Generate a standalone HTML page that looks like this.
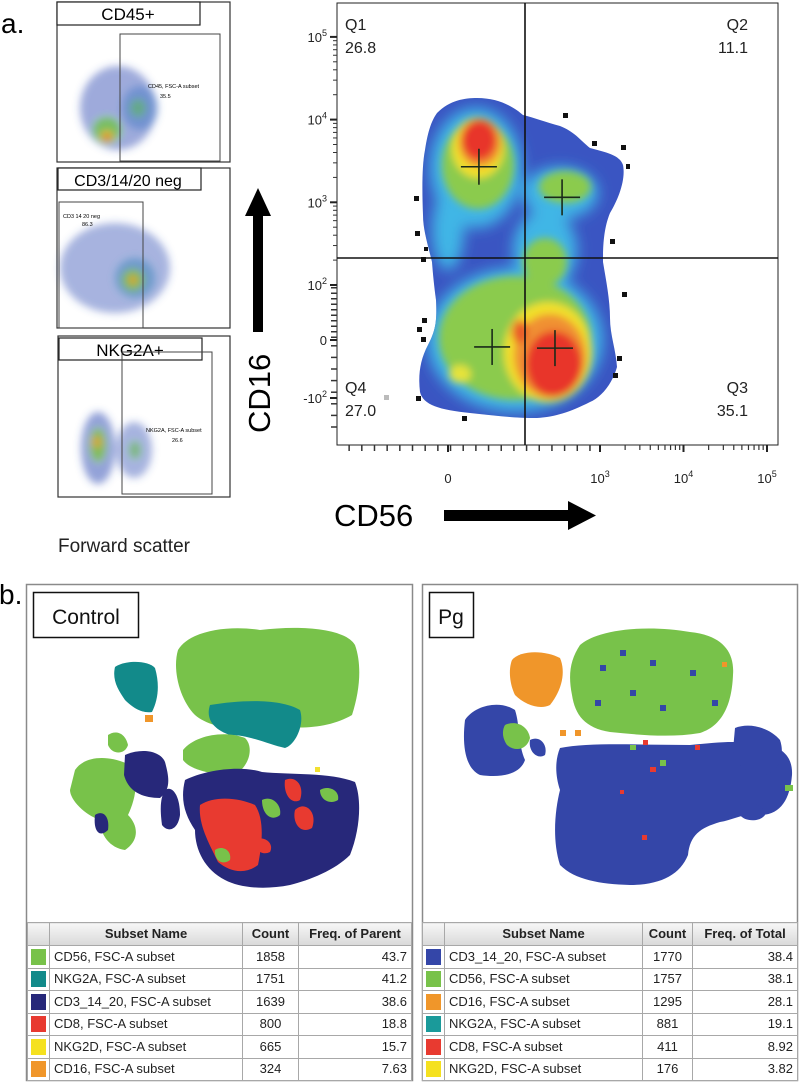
<!DOCTYPE html>
<html><head><meta charset="utf-8">
<style>
html,body{margin:0;padding:0;background:#fff;}
body{width:800px;height:1083px;position:relative;overflow:hidden;font-family:"Liberation Sans",sans-serif;}
svg{position:absolute;left:0;top:0;}
table{position:absolute;border-collapse:collapse;font-family:"Liberation Sans",sans-serif;font-size:13px;color:#222;table-layout:fixed;background:#fff;}
td,th{border:1px solid #a8a8a8;padding:0 4px;white-space:nowrap;overflow:hidden;line-height:14px;}
tr{height:22.5px;}
tr.h{height:23px;}
th{background:linear-gradient(#f6f6f6,#d9d9d9);font-weight:bold;text-align:center;}
td.c{text-align:center}td.r{text-align:right}
td.sw{padding:0 3px}
.sw span{display:block;width:15px;height:16px;}
</style></head><body>
<svg width="800" height="1083" viewBox="0 0 800 1083">
<defs>
<filter id="bl" x="-50%" y="-50%" width="200%" height="200%"><feGaussianBlur stdDeviation="7"/></filter>
<filter id="bh" x="-50%" y="-50%" width="200%" height="200%"><feGaussianBlur stdDeviation="4"/></filter>
<filter id="bs" x="-50%" y="-50%" width="200%" height="200%"><feGaussianBlur stdDeviation="4"/></filter>
<clipPath id="densclip"><path id="dpath" d="M437,113 C450,100 465,98 477,98 C500,98 515,108 523,115 C535,118 545,122 560,126 C575,132 580,140 590,148 C605,152 620,155 623,165 C626,180 618,200 610,213 C603,230 603,250 603,262 C606,280 610,300 610,318 C610,335 616,350 617,367 C612,385 600,398 590,402 C570,412 555,417 537,418 C510,418 490,415 470,413 C440,410 423,405 420,392 C418,375 420,360 428,345 C436,330 437,320 436,300 C434,285 433,275 432,262 C428,245 423,230 423,215 C422,190 422,165 425,150 C428,130 432,120 437,113 Z"/></clipPath>
</defs>

<text x="1" y="33" font-size="28">a.</text>

<g>
<rect x="57" y="2" width="173" height="160" fill="none" stroke="#333" stroke-width="1.2"/>
<g filter="url(#bs)">
<ellipse cx="118" cy="108" rx="38" ry="42" fill="#3c56b8" opacity="0.5"/>
<ellipse cx="140" cy="108" rx="18" ry="22" fill="#4a7bc8" opacity="0.5"/>
<ellipse cx="107" cy="130" rx="14" ry="13" fill="#72c24a" opacity="0.85"/>
<ellipse cx="138" cy="108" rx="8" ry="9" fill="#5fb36a" opacity="0.7"/>
<ellipse cx="107" cy="136" rx="6" ry="5" fill="#f2d02a"/>
<ellipse cx="107" cy="137" rx="3.5" ry="3.5" fill="#e23a22"/>
</g>
<rect x="57" y="2" width="143" height="23" fill="#fff" stroke="#222" stroke-width="1.2"/>
<text x="128" y="20" font-size="17" text-anchor="middle">CD45+</text>
<rect x="120" y="34" width="100" height="127" fill="none" stroke="#444" stroke-width="1"/>
<text x="148" y="88" font-size="5.5">CD45, FSC-A subset</text>
<text x="160" y="98" font-size="5.5">35.5</text>
</g>

<g>
<rect x="57" y="168" width="173" height="160" fill="none" stroke="#333" stroke-width="1.2"/>
<g filter="url(#bs)">
<ellipse cx="115" cy="268" rx="55" ry="45" fill="#3c56b8" opacity="0.45"/>
<ellipse cx="135" cy="278" rx="20" ry="20" fill="#4b8bc0" opacity="0.6"/>
<ellipse cx="133" cy="280" rx="11" ry="11" fill="#7cc244" opacity="0.85"/>
<ellipse cx="133" cy="280" rx="4" ry="4" fill="#f29a2a"/>
</g>
<rect x="58" y="168" width="143" height="22" fill="#fff" stroke="#222" stroke-width="1.2"/>
<text x="128" y="186" font-size="16" text-anchor="middle">CD3/14/20 neg</text>
<rect x="59" y="202" width="84" height="126" fill="none" stroke="#444" stroke-width="1"/>
<text x="63" y="218" font-size="5.5">CD3 14 20 neg</text>
<text x="82" y="226" font-size="5.5">86.3</text>
</g>

<g>
<rect x="58" y="336" width="172" height="161" fill="none" stroke="#333" stroke-width="1.2"/>
<g filter="url(#bs)">
<ellipse cx="98" cy="448" rx="17" ry="36" fill="#3c56b8" opacity="0.55"/>
<ellipse cx="134" cy="450" rx="18" ry="28" fill="#3c56b8" opacity="0.45"/>
<ellipse cx="98" cy="445" rx="8" ry="17" fill="#7cc244" opacity="0.85"/>
<ellipse cx="135" cy="450" rx="6" ry="9" fill="#6cb85a" opacity="0.7"/>
<ellipse cx="97" cy="442" rx="3.5" ry="5" fill="#f29a2a"/>
</g>
<rect x="59" y="338" width="143" height="22" fill="#fff" stroke="#222" stroke-width="1.2"/>
<text x="130" y="356" font-size="17" text-anchor="middle">NKG2A+</text>
<rect x="122" y="352" width="90" height="142" fill="none" stroke="#444" stroke-width="1"/>
<text x="146" y="432" font-size="5.5">NKG2A, FSC-A subset</text>
<text x="172" y="442" font-size="5.5">26.6</text>
</g>
<text x="58" y="552" font-size="19" fill="#222">Forward scatter</text>

<g>
<rect x="253" y="214" width="10" height="118" fill="#000"/>
<polygon points="245,216 258,188 271,216" fill="#000"/>
<text x="0" y="0" font-size="31" transform="translate(270,433) rotate(-90)">CD16</text>
</g>
<g>
<text x="334" y="526" font-size="31">CD56</text>
<rect x="444" y="510" width="126" height="11" fill="#000"/>
<polygon points="568,501 596,515.5 568,530" fill="#000"/>
</g>

<g>
<rect x="337" y="3" width="441" height="442" fill="#fff" stroke="#222" stroke-width="1"/>
<use href="#dpath" fill="#3a55c2"/>
<g clip-path="url(#densclip)">
<g filter="url(#bl)">
<ellipse cx="476" cy="168" rx="46" ry="60" fill="#3fb6e6"/>
<ellipse cx="448" cy="230" rx="16" ry="40" fill="#3fb6e6"/>
<ellipse cx="560" cy="193" rx="38" ry="26" fill="#3fb6e6"/>
<ellipse cx="545" cy="250" rx="32" ry="40" fill="#3fb6e6"/>
<ellipse cx="515" cy="340" rx="88" ry="72" fill="#3fb6e6"/>
</g>
<g filter="url(#bh)">
<ellipse cx="478" cy="165" rx="36" ry="44" fill="#8bcb4e"/>
<ellipse cx="565" cy="187" rx="26" ry="16" fill="#8bcb4e"/>
<ellipse cx="545" cy="262" rx="22" ry="24" fill="#8bcb4e"/>
<ellipse cx="515" cy="338" rx="76" ry="62" fill="#8bcb4e"/>
<ellipse cx="478" cy="148" rx="26" ry="30" fill="#f2e02c"/>
<ellipse cx="548" cy="352" rx="44" ry="50" fill="#f2e02c"/>
<ellipse cx="460" cy="374" rx="11" ry="9" fill="#e6e33a"/>
<ellipse cx="480" cy="143" rx="21" ry="24" fill="#f09030"/>
<ellipse cx="550" cy="356" rx="36" ry="42" fill="#f09030"/>
<ellipse cx="479" cy="140" rx="17" ry="20" fill="#e8362a"/>
<ellipse cx="554" cy="364" rx="28" ry="33" fill="#e8362a"/>
<ellipse cx="520" cy="332" rx="8" ry="12" fill="#ea5a2a"/>
</g>
</g>
<g fill="#111">
<rect x="563" y="113" width="5" height="5"/><rect x="592" y="141" width="5" height="5"/><rect x="621" y="145" width="5" height="5"/>
<rect x="626" y="164" width="4" height="5"/><rect x="414" y="196" width="5" height="5"/><rect x="415" y="231" width="5" height="5"/>
<rect x="424" y="247" width="4" height="4"/><rect x="421" y="257" width="5" height="5"/><rect x="610" y="239" width="5" height="5"/>
<rect x="622" y="292" width="5" height="5"/><rect x="422" y="318" width="5" height="5"/><rect x="417" y="327" width="5" height="5"/>
<rect x="421" y="337" width="5" height="5"/><rect x="617" y="356" width="5" height="5"/><rect x="613" y="373" width="5" height="5"/>
<rect x="416" y="396" width="5" height="5"/><rect x="462" y="416" width="5" height="5"/>
</g>
<rect x="384" y="395" width="5" height="5" fill="#bbb"/>
<line x1="525" y1="3" x2="525" y2="445" stroke="#111" stroke-width="1.6"/>
<line x1="337" y1="258" x2="778" y2="258" stroke="#111" stroke-width="1.6"/>
<g id="crosses" stroke="#1a2a1a" stroke-width="1.6"></g>
<g id="qlabels" font-size="16" fill="#222"></g>
<g id="ticks"></g>
</g>

<text x="-1" y="604" font-size="28">b.</text>
<rect x="26.5" y="584.5" width="386" height="496" fill="#fff" stroke="#8a8a8a" stroke-width="1.5"/>
<rect x="422.5" y="584.5" width="375" height="496" fill="#fff" stroke="#8a8a8a" stroke-width="1.5"/>

<g>
<path d="M178,650 C190,630 230,625 260,630 C300,625 345,628 355,645 C362,665 360,690 352,715 C330,728 300,730 270,725 C240,732 210,728 195,715 C180,700 172,670 178,650Z" fill="#78c24a"/>
<path d="M210,705 C240,700 280,698 300,710 C305,725 295,745 285,748 C270,745 250,735 230,735 C215,730 205,720 210,705Z" fill="#128a8a"/>
<path d="M115,667 C125,660 148,660 155,668 C160,685 158,700 152,712 C140,714 130,705 125,700 C118,690 112,680 115,667Z" fill="#128a8a"/>
<rect x="145" y="715" width="8" height="7" fill="#f0962a"/>
<path d="M183,750 C195,735 225,730 245,738 C255,748 248,768 235,774 C215,776 190,770 183,760Z" fill="#78c24a"/>
<path d="M75,770 C85,755 110,755 130,765 C140,780 135,800 128,815 C138,825 140,840 125,850 C110,848 100,835 100,820 C85,815 70,800 70,790Z" fill="#78c24a"/>
<path d="M108,735 C115,730 125,732 128,745 C125,755 112,755 108,745Z" fill="#78c24a"/>
<path d="M125,755 C140,748 160,750 165,762 C170,780 170,790 160,798 C140,798 128,790 124,775Z" fill="#27287a"/>
<path d="M165,790 C172,785 180,795 180,815 C178,830 168,833 162,825 C160,810 160,798 165,790Z" fill="#27287a"/>
<path d="M95,815 C102,810 110,815 108,830 C100,838 93,832 95,815Z" fill="#27287a"/>
<path d="M185,780 C205,770 240,765 262,772 C290,775 330,772 355,782 C362,800 360,830 350,855 C335,870 310,880 290,885 C265,890 240,888 225,880 C205,870 195,850 195,830 C185,815 180,800 185,780Z" fill="#27287a"/>
<path d="M200,805 C215,795 240,798 255,805 C265,820 262,845 258,865 C245,875 230,872 218,862 C210,845 198,825 200,805Z" fill="#e83a30"/>
<path d="M285,780 C295,775 305,785 300,800 C292,805 283,795 285,780Z" fill="#e83a30"/>
<path d="M295,810 C305,800 318,812 312,828 C300,835 292,822 295,810Z" fill="#e83a30"/>
<path d="M262,800 C272,795 282,805 280,815 C272,822 262,815 262,800Z" fill="#78c24a"/>
<path d="M215,850 C222,845 232,850 230,860 C222,866 214,860 215,850Z" fill="#78c24a"/>
<path d="M320,790 C328,785 340,790 338,800 C330,805 320,800 320,790Z" fill="#78c24a"/>
<path d="M255,840 C262,835 275,842 270,852 C262,856 254,850 255,840Z" fill="#e83a30"/>
<rect x="315" y="767" width="5" height="5" fill="#f2e030"/>
</g>

<g>
<path d="M580,645 C600,628 650,625 690,632 C720,635 735,650 733,675 C732,700 725,725 700,733 C670,738 640,735 610,732 C585,728 575,715 572,695 C568,675 570,660 580,645Z" fill="#78c24a"/>
<g fill="#3446a8"><rect x="600" y="665" width="6" height="6"/><rect x="630" y="690" width="6" height="6"/><rect x="650" y="660" width="6" height="6"/><rect x="690" y="670" width="6" height="6"/><rect x="712" y="700" width="6" height="6"/><rect x="620" y="650" width="6" height="6"/><rect x="660" y="705" width="6" height="6"/><rect x="595" y="700" width="6" height="6"/></g>
<path d="M512,660 C520,650 545,650 560,658 C566,672 562,690 550,705 C540,710 525,705 515,695 C510,685 508,670 512,660Z" fill="#f0962a"/>
<path d="M465,720 C475,705 500,700 515,710 C520,725 518,745 525,760 C520,775 500,778 480,775 C465,768 462,745 465,720Z" fill="#3446a8"/>
<path d="M505,725 C515,720 528,725 530,738 C527,750 515,752 507,745 C502,738 502,730 505,725Z" fill="#78c24a"/>
<path d="M530,740 C540,735 548,745 545,755 C538,760 528,752 530,740Z" fill="#3446a8"/>
<path d="M560,748 C590,742 640,745 690,745 C720,742 740,740 760,745 C780,745 793,755 792,775 C790,800 780,815 760,815 C745,812 733,820 720,822 C700,828 690,835 688,855 C680,875 660,885 630,885 C600,884 575,880 560,865 C552,840 555,810 560,790 C555,775 555,760 560,748Z" fill="#3446a8"/>
<path d="M735,728 C750,722 770,728 780,740 C785,755 780,770 765,775 C748,775 735,765 733,750Z" fill="#3446a8"/>
<path d="M740,805 C750,800 765,805 765,815 C760,822 745,822 740,815Z" fill="#3446a8"/>
<g fill="#e83a30"><rect x="643" y="740" width="5" height="5"/><rect x="650" y="767" width="6" height="5"/><rect x="620" y="790" width="4" height="4"/><rect x="695" y="745" width="5" height="5"/><rect x="642" y="835" width="5" height="5"/></g>
<g fill="#78c24a"><rect x="660" y="760" width="6" height="6"/><rect x="785" y="785" width="8" height="6"/><rect x="630" y="745" width="6" height="5"/></g>
<g fill="#f0962a"><rect x="560" y="730" width="6" height="6"/><rect x="575" y="730" width="6" height="6"/><rect x="722" y="662" width="5" height="5"/></g>
</g>

<rect x="33.5" y="592.5" width="105" height="45" fill="#fff" stroke="#111" stroke-width="1.5"/>
<text x="86" y="624" font-size="21" text-anchor="middle" fill="#111">Control</text>
<rect x="429.5" y="592.5" width="44" height="45" fill="#fff" stroke="#111" stroke-width="1.5"/>
<text x="451" y="624" font-size="21" text-anchor="middle" fill="#111">Pg</text>
</svg>

<table style="left:27px;top:922px;width:384px">
<colgroup><col style="width:22px"><col style="width:193px"><col style="width:56px"><col style="width:113px"></colgroup>
<tr class="h"><th></th><th>Subset Name</th><th>Count</th><th>Freq. of Parent</th></tr>
<tr><td class="sw"><span style="background:#78c24a"></span></td><td>CD56, FSC-A subset</td><td class="c">1858</td><td class="r">43.7</td></tr>
<tr><td class="sw"><span style="background:#128a8a"></span></td><td>NKG2A, FSC-A subset</td><td class="c">1751</td><td class="r">41.2</td></tr>
<tr><td class="sw"><span style="background:#27287a"></span></td><td>CD3_14_20, FSC-A subset</td><td class="c">1639</td><td class="r">38.6</td></tr>
<tr><td class="sw"><span style="background:#e83a30"></span></td><td>CD8, FSC-A subset</td><td class="c">800</td><td class="r">18.8</td></tr>
<tr><td class="sw"><span style="background:#f5e11f"></span></td><td>NKG2D, FSC-A subset</td><td class="c">665</td><td class="r">15.7</td></tr>
<tr><td class="sw"><span style="background:#f0962a"></span></td><td>CD16, FSC-A subset</td><td class="c">324</td><td class="r">7.63</td></tr>
</table>

<table style="left:422px;top:922px;width:375px">
<colgroup><col style="width:22px"><col style="width:198px"><col style="width:50px"><col style="width:105px"></colgroup>
<tr class="h"><th></th><th>Subset Name</th><th>Count</th><th>Freq. of Total</th></tr>
<tr><td class="sw"><span style="background:#3446a8"></span></td><td>CD3_14_20, FSC-A subset</td><td class="c">1770</td><td class="r">38.4</td></tr>
<tr><td class="sw"><span style="background:#78c24a"></span></td><td>CD56, FSC-A subset</td><td class="c">1757</td><td class="r">38.1</td></tr>
<tr><td class="sw"><span style="background:#f0962a"></span></td><td>CD16, FSC-A subset</td><td class="c">1295</td><td class="r">28.1</td></tr>
<tr><td class="sw"><span style="background:#1a9a9a"></span></td><td>NKG2A, FSC-A subset</td><td class="c">881</td><td class="r">19.1</td></tr>
<tr><td class="sw"><span style="background:#e83a30"></span></td><td>CD8, FSC-A subset</td><td class="c">411</td><td class="r">8.92</td></tr>
<tr><td class="sw"><span style="background:#f5e11f"></span></td><td>NKG2D, FSC-A subset</td><td class="c">176</td><td class="r">3.82</td></tr>
</table>

<script>
const yTickLabels = ["10^5","10^4","10^3","10^2","0","-10^2"];
const yTickValues = [5, 4, 3, 2, 0, -1];
const xTickLabels = ["0","10^3","10^4","10^5"];
const xTickValues = [0, 3, 4, 5];
const quadNames = ["Q1","Q2","Q3","Q4"];
const quadValues = ["26.8","11.1","35.1","27.0"];
const centroidX = [0.61, 2.25, 2.11, 0.87];
const centroidY = [3.43, 3.06, -0.14, -0.12];

function yScale(v){
  if (v >= 2) return 285 - (v-2)*82.7;
  if (v >= 0) return 340 - v*27.5;
  return 340 - v*58;
}
function xScale(v){
  if (v >= 3) return 600 + (v-3)*83.5;
  return 448 + v*50.7;
}
const NS="http://www.w3.org/2000/svg";
const ticks=document.getElementById('ticks');
function mk(tag,attrs,parent){const e=document.createElementNS(NS,tag);for(const k in attrs)e.setAttribute(k,attrs[k]);parent.appendChild(e);return e;}
function label(txt,x,y,anchor,parent){
  const t=mk('text',{x:x,y:y,'font-size':13,'text-anchor':anchor,fill:'#222'},parent);
  if(txt.indexOf('^')>=0){const p=txt.split('^');t.appendChild(document.createTextNode(p[0]));const s=mk('tspan',{dy:-6,'font-size':9},t);s.textContent=p[1];}
  else t.textContent=txt;
  return t;
}
yTickLabels.forEach((lab,i)=>{
  const y=yScale(yTickValues[i]);
  const ln=mk('line',{x1:330,y1:y,x2:337,y2:y,stroke:'#222','stroke-width':2},ticks);
  
  
  const t=label(lab,327,y+5,'end',ticks);
  
  
});
for(let d=2; d<5; d++){ for(let m=2;m<10;m++){ const y=yScale(d+Math.log10(m)); mk('line',{x1:333,y1:y,x2:337,y2:y,stroke:'#333','stroke-width':1},ticks);} }
xTickLabels.forEach((lab,i)=>{
  const x=xScale(xTickValues[i]);
  const ln=mk('line',{x1:x,y1:445,x2:x,y2:452,stroke:'#222','stroke-width':2},ticks);
  
  
  const t=label(lab,x,483,'middle',ticks);
  
  
});
for(let d=3; d<5; d++){ for(let m=2;m<10;m++){ const x=xScale(d+Math.log10(m)); mk('line',{x1:x,y1:445,x2:x,y2:450,stroke:'#333','stroke-width':1.2},ticks);} }
for(let v=-2.2; v<3; v+=0.25){ const x=xScale(v); if(x>340) mk('line',{x1:x,y1:445,x2:x,y2:451,stroke:'#333','stroke-width':1.5},ticks);}
for(let v=-1.5; v<2; v+=0.2){ const y=yScale(v); if(y<445) mk('line',{x1:331,y1:y,x2:337,y2:y,stroke:'#333','stroke-width':1.5},ticks);}

const ql=document.getElementById('qlabels');
const qpos=[[345,30,'start'],[748,30,'end'],[748,393,'end'],[345,393,'start']];
quadNames.forEach((q,i)=>{
  const g=mk('g',{},ql);
  
  
  const a=mk('text',{x:qpos[i][0],y:qpos[i][1],'text-anchor':qpos[i][2]},g); a.textContent=q;
  const b=mk('text',{x:qpos[i][0],y:qpos[i][1]+23,'text-anchor':qpos[i][2]},g); b.textContent=quadValues[i];
});
const cr=document.getElementById('crosses');
centroidX.forEach((cx,i)=>{
  const x=xScale(cx), y=yScale(centroidY[i]);
  const g=mk('g',{},cr);
  
  
  mk('line',{x1:x-18,y1:y,x2:x+18,y2:y},g);
  mk('line',{x1:x,y1:y-18,x2:x,y2:y+18},g);
});
</script>
</body></html>
